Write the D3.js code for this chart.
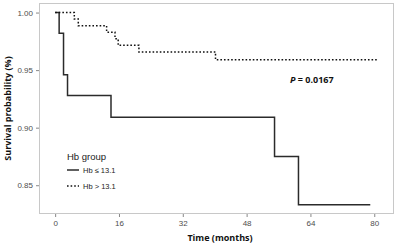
<!DOCTYPE html>
<html>
<head>
<meta charset="utf-8">
<script src="https://cdn.jsdelivr.net/npm/d3@7"></script>
<style>
  body { margin: 0; background: #fff; }
  #outer { width: 398px; height: 247px; }
</style>
</head>
<body>
<div id="outer"></div>
<script>
////////// Data //////////
// Hb <= 13.1 : step times (months) and survival after each step
const lowTimes = [0, 1, 2.1, 3.1, 14, 55, 61, 79];
const lowSurv  = [1.0, 0.982, 0.946, 0.928, 0.909, 0.875, 0.833, 0.833];
// Hb > 13.1
const highTimes = [0, 4.8, 5.8, 12.9, 15, 15.8, 21, 40.2, 80.9];
const highSurv  = [1.0, 0.9943, 0.9886, 0.9829, 0.9772, 0.9715, 0.9658, 0.959, 0.959];

const xTicks = [0, 16, 32, 48, 64, 80];
const yTicks = [0.85, 0.90, 0.95, 1.00];
const legendLabels = ['Hb \u2264 13.1', 'Hb > 13.1'];

////////// Layout //////////
const width = 398, height = 247;
const panel = { left: 39, right: 394, top: 3, bottom: 214 };
const lineColor = '#2b2b2b';
const tickColor = '#4d4d4d';

const svg = d3.select('#outer').append('svg')
  .attr('width', width)
  .attr('height', height);

const x = d3.scaleLinear().domain([-4.05, 84.95]).range([panel.left, panel.right]);
const y = d3.scaleLinear().domain([0.825, 1.0083]).range([panel.bottom, panel.top]);

// panel border
svg.append('rect')
  .attr('x', panel.left + 0.5)
  .attr('y', panel.top + 0.5)
  .attr('width', panel.right - panel.left - 1)
  .attr('height', panel.bottom - panel.top - 1)
  .attr('fill', '#fff')
  .attr('stroke', '#c8c8c8')
  .attr('stroke-width', 1);

// axes
const xAxis = d3.axisBottom(x).tickValues(xTicks).tickSize(3).tickPadding(3).tickFormat(d3.format('d'));
const yAxis = d3.axisLeft(y).tickValues(yTicks).tickSize(3).tickPadding(3).tickFormat(d3.format('.2f'));

const gx = svg.append('g').attr('transform', `translate(0,${panel.bottom})`).call(xAxis);
const gy = svg.append('g').attr('transform', `translate(${panel.left},0)`).call(yAxis);
[gx, gy].forEach(g => {
  g.select('.domain').remove();
  g.selectAll('line').attr('stroke', '#888');
  g.selectAll('text')
    .attr('fill', tickColor)
    .style('font', '8px "Liberation Sans", Arial, sans-serif');
});

// survival curves
const stepLine = d3.line()
  .x(d => x(d[0]))
  .y(d => y(d[1]))
  .curve(d3.curveStepAfter);

const lowData = lowTimes.map((t, i) => [t, lowSurv[i]]);
const highData = highTimes.map((t, i) => [t, highSurv[i]]);

svg.append('path')
  .attr('d', stepLine(lowData))
  .attr('fill', 'none')
  .attr('stroke', lineColor)
  .attr('stroke-width', 1.5);

svg.append('path')
  .attr('d', stepLine(highData))
  .attr('fill', 'none')
  .attr('stroke', '#111')
  .attr('stroke-width', 1.5)
  .attr('stroke-dasharray', '1.6,2');

// p-value
const pText = svg.append('text')
  .attr('x', 290)
  .attr('y', 83)
  .attr('fill', '#111')
  .style('font', 'bold 9px "Open Sans", sans-serif');
pText.append('tspan').style('font-style', 'italic').text('P');
pText.append('tspan').text(' = 0.0167');

// legend
svg.append('text')
  .attr('x', 67)
  .attr('y', 160)
  .attr('fill', '#222')
  .style('font', '9.5px "Liberation Sans", Arial, sans-serif')
  .text('Hb group');

legendLabels.forEach((lab, i) => {
  const ly = 170 + i * 16;
  svg.append('line')
    .attr('x1', 67).attr('x2', 79)
    .attr('y1', ly).attr('y2', ly)
    .attr('stroke', i === 0 ? lineColor : '#111')
    .attr('stroke-width', 1.5)
    .attr('stroke-dasharray', i === 0 ? null : '1.6,2');
  svg.append('text')
    .attr('x', 83)
    .attr('y', ly + 3)
    .attr('fill', '#222')
    .style('font', '7.5px "Liberation Sans", Arial, sans-serif')
    .text(lab);
});

// axis titles
svg.append('text')
  .attr('x', 220)
  .attr('y', 241)
  .attr('text-anchor', 'middle')
  .attr('fill', '#111')
  .style('font', 'bold 9px "Open Sans", sans-serif')
  .text('Time (months)');

svg.append('text')
  .attr('transform', `translate(11,${(panel.top + panel.bottom) / 2}) rotate(-90)`)
  .attr('text-anchor', 'middle')
  .attr('fill', '#111')
  .style('font', 'bold 9px "Open Sans", sans-serif')
  .text('Survival probability (%)');
</script>
</body>
</html>
